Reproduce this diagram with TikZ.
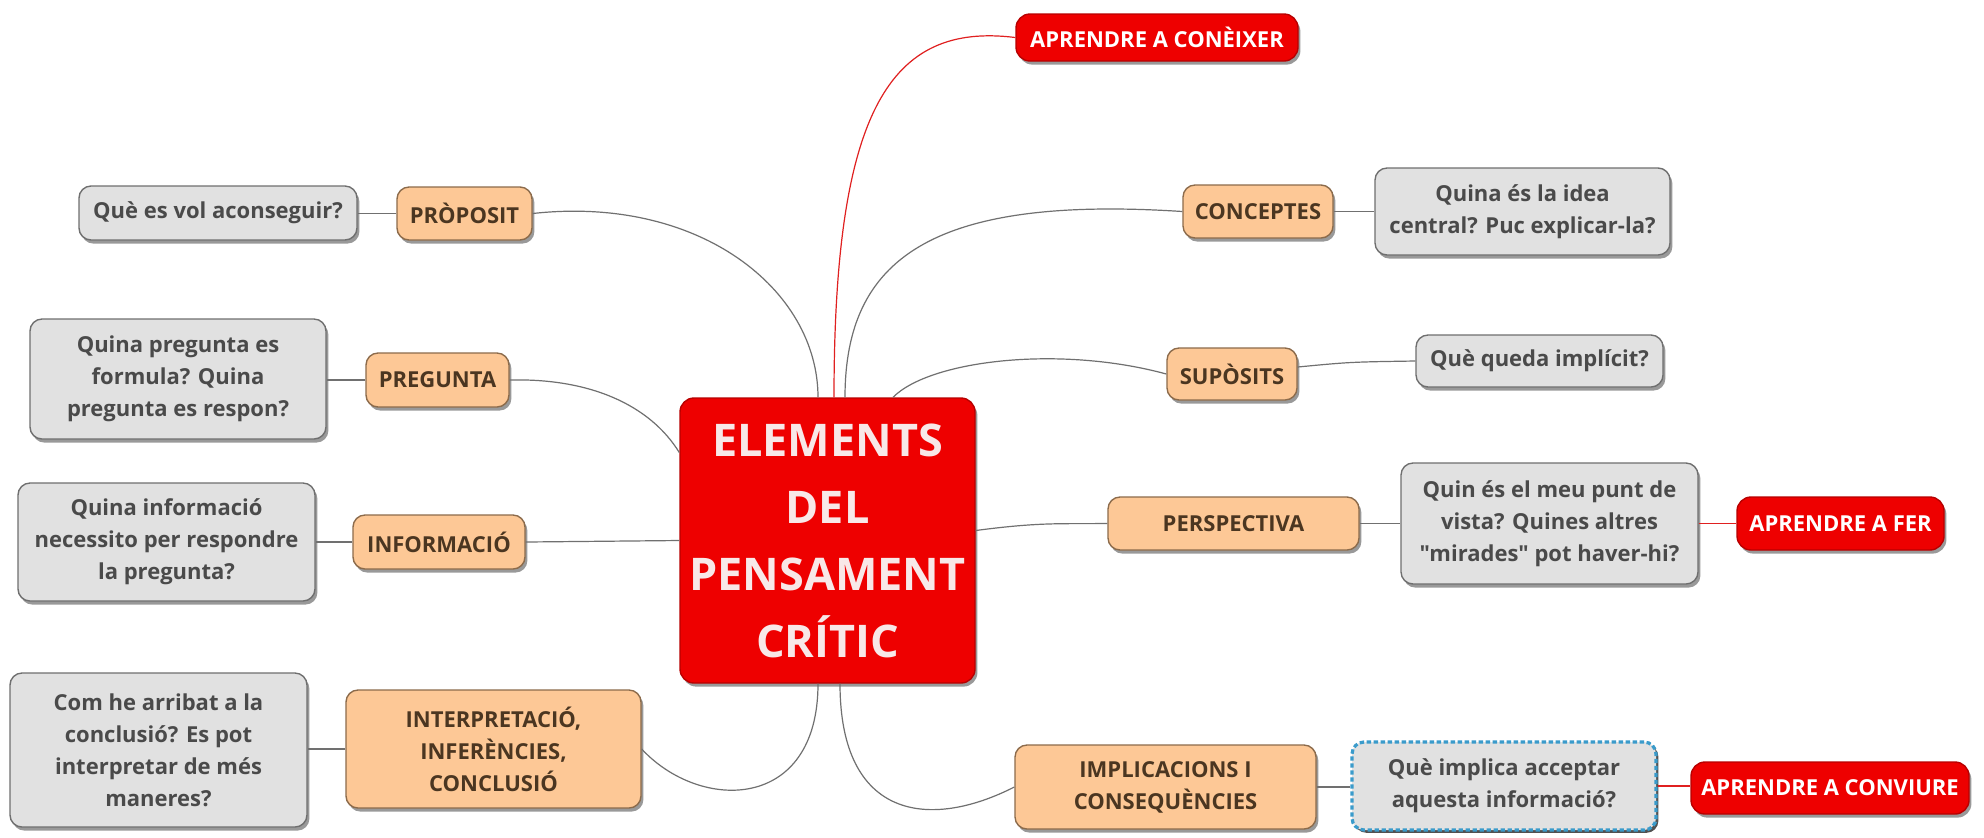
\documentclass[tikz,border=0pt]{standalone}
\usepackage{fontspec}
\setmainfont{Open Sans}[Ligatures=TeXOff]
\usetikzlibrary{shadows,calc}
\definecolor{greyfill}{HTML}{E1E1E1}
\definecolor{greyline}{HTML}{6F6F6F}
\definecolor{greytext}{HTML}{4A4A4A}
\definecolor{orfill}{HTML}{FDC896}
\definecolor{orline}{HTML}{8C6B4B}
\definecolor{ortext}{HTML}{4B3621}
\definecolor{redfill}{HTML}{EE0000}
\definecolor{redline}{HTML}{B80000}
\definecolor{ctext}{HTML}{F8E8E8}
\definecolor{dotblue}{HTML}{3A9BCB}
\definecolor{connline}{HTML}{707070}
\definecolor{redconncol}{HTML}{E02020}
\begin{document}
\begin{tikzpicture}[x=0.5pt,y=-0.5pt,
  shad/.style={drop shadow={shadow xshift=1.2pt, shadow yshift=-1.8pt, opacity=0.4, fill=black}},
  darkshad/.style={drop shadow={shadow xshift=1.2pt, shadow yshift=-1.4pt, opacity=0.85, fill=black!80}},
  base/.style={rounded corners=6pt, inner sep=0pt, align=center,
    font=\fontsize{11}{16}\selectfont\bfseries, line width=0.7pt},
  grey/.style={base, shad, fill=greyfill, draw=greyline, text=greytext},
  orange/.style={base, shad, fill=orfill, draw=orline, text=ortext},
  redbox/.style={base, shad, fill=redfill, draw=redline, text=white, rounded corners=7pt},
  conn/.style={draw=connline, line width=0.6pt},
  redconn/.style={draw=redconncol, line width=0.6pt},
]
\fill[white] (0,0) rectangle (1984,837);
\useasboundingbox (0,0) rectangle (1984,837);

% central
\node[redbox, minimum width=147.5pt, minimum height=142.5pt, text=ctext,
  font=\fontsize{22.5}{33.5}\selectfont\bfseries] (c) at (827.5,540.5)
  {ELEMENTS\\DEL\\PENSAMENT\\CRÍTIC};

% orange nodes
\node[orange, minimum width=67.5pt, minimum height=26.5pt] (o1) at (464.5,213.5) {PRÒPOSIT};
\node[orange, minimum width=71.5pt, minimum height=27pt] (o2) at (437.5,380) {PREGUNTA};
\node[orange, minimum width=86pt, minimum height=27pt] (o3) at (439,542) {INFORMACIÓ};
\node[orange, minimum width=147.5pt, minimum height=59pt] (o4) at (493.5,749) {INTERPRETACIÓ,\\INFERÈNCIES,\\CONCLUSIÓ};
\node[orange, minimum width=75pt, minimum height=26.5pt] (o5) at (1258,211.5) {CONCEPTES};
\node[orange, minimum width=65pt, minimum height=26pt] (o6) at (1232,374) {SUPÒSITS};
\node[orange, minimum width=125.5pt, minimum height=26.5pt] (o7) at (1233.5,523.5) {PERSPECTIVA};
\node[orange, minimum width=150.5pt, minimum height=42pt] (o8) at (1165.5,787) {IMPLICACIONS I\\CONSEQUÈNCIES};

% grey nodes
\node[grey, minimum width=139pt, minimum height=27pt] (g1) at (218,213) {Què es vol aconseguir?};
\node[grey, minimum width=148pt, minimum height=60pt] (g2) at (178,379) {Quina pregunta es\\formula? Quina\\pregunta es respon?};
\node[grey, minimum width=148.5pt, minimum height=59pt] (g3) at (166.5,542) {Quina informació\\necessito per respondre\\la pregunta?};
\node[grey, minimum width=148.5pt, minimum height=77pt] (g4) at (158.5,750) {Com he arribat a la\\conclusió? Es pot\\interpretar de més\\maneres?};
\node[grey, minimum width=147.5pt, minimum height=43.5pt] (g5) at (1522.5,211.5) {Quina és la idea\\central? Puc explicar-la?};
\node[grey, minimum width=123.5pt, minimum height=26pt] (g6) at (1539.5,361) {Què queda implícit?};
\node[grey, minimum width=148.5pt, minimum height=60.5pt] (g7) at (1549.5,523.5) {Quin és el meu punt de\\vista? Quines altres\\"mirades" pot haver-hi?};
\node[base, darkshad, fill=greyfill, text=greytext, draw=dotblue, line width=1.6pt,
  dash pattern=on 2.2pt off 1.3pt, minimum width=152pt, minimum height=44pt] (g8) at (1504,786) {Què implica acceptar\\aquesta informació?};

% red nodes
\node[redbox, minimum width=141pt, minimum height=23.5pt] (r1) at (1157,37.5) {APRENDRE A CONÈIXER};
\node[redbox, minimum width=103.5pt, minimum height=26.5pt] (r2) at (1840.5,523.5) {APRENDRE A FER};
\node[redbox, minimum width=139pt, minimum height=26pt] (r3) at (1830,788) {APRENDRE A CONVIURE};

% main connectors
\draw[redconn] ([xshift=3.25pt]c.north) .. controls (834,110) and (890,22) .. (r1.west);
\draw[conn] (o1.east) .. controls (700,195) and (818,290) .. ([xshift=-4.75pt]c.north);
\draw[conn] ([xshift=8.75pt]c.north) .. controls (845,260) and (930,195) .. (o5.west);
\draw[conn] ([xshift=32.75pt]c.north) .. controls (930,360) and (1060,345) .. (o6.west);
\draw[conn] ([yshift=5pt]c.east) .. controls (1040,522) and (1060,524) .. (o7.west);
\draw[conn] (o2.east) .. controls (590,378) and (650,405) .. ([yshift=44pt]c.west);
\draw[conn] (o3.east) -- (c.west);
\draw[conn] (o4.east) .. controls (700,812) and (818,812) .. ([xshift=-4.75pt]c.south);
\draw[conn] ([xshift=6.25pt]c.south) .. controls (840,820) and (930,830) .. (o8.west);

% child connectors
\draw[conn] (o1.west) -- (o1.west -| g1.east);
\draw[conn] (o2.west) -- (o2.west -| g2.east);
\draw[conn] (o3.west) -- (o3.west -| g3.east);
\draw[conn] (o4.west) -- (o4.west -| g4.east);
\draw[conn] (o5.east) -- (o5.east -| g5.west);
\draw[conn] ([yshift=3.5pt]o6.east) .. controls (1350,362) .. (g6.west);
\draw[conn] (o7.east) -- (o7.east -| g7.west);
\draw[conn] (o8.east) -- (o8.east -| g8.west);
\draw[redconn] (g7.east) -- (g7.east -| r2.west);
\draw[redconn] (g8.east) -- (g8.east -| r3.west);
\end{tikzpicture}
\end{document}
